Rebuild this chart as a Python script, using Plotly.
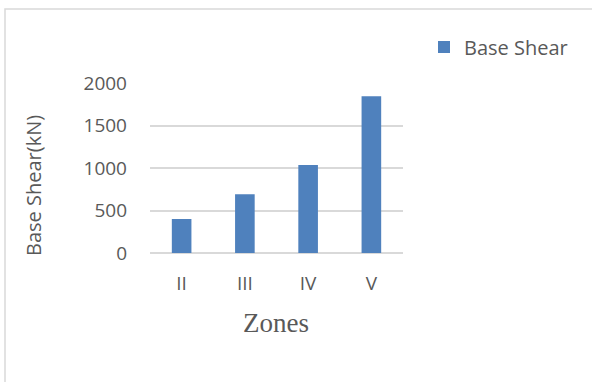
import plotly.graph_objects as go

zones = ["II", "III", "IV", "V"]
base_shear = [400, 690, 1035, 1845]
y_ticks = [0, 500, 1000, 1500, 2000]

W, H = 592, 382
L, R, T, B = 150, 189, 83, 129
pw, ph = W - L - R, H - T - B

def px(x):
    return (x - L) / pw

def py(y):
    return (H - B - y) / ph

BAR = "#4F81BD"
TXT = "#595959"
GRID = "#D9D9D9"

fig = go.Figure(
    go.Bar(x=zones, y=base_shear, name="Base Shear", marker=dict(color=BAR, line=dict(width=0)))
)

fig.update_layout(
    width=W, height=H,
    margin=dict(l=L, r=R, t=T, b=B, pad=0),
    paper_bgcolor="white", plot_bgcolor="white",
    bargap=0.69,
    font=dict(family="Open Sans", size=19, color=TXT),
    showlegend=True,
    legend=dict(x=px(424), y=py(47), xanchor="left", yanchor="middle",
                font=dict(family="Open Sans", size=20, color=TXT),
                bgcolor="rgba(0,0,0,0)"),
    xaxis=dict(showgrid=False, showline=False, ticks="", ticklabelstandoff=17,
               tickfont=dict(family="Open Sans", size=19, color=TXT)),
    yaxis=dict(range=[0, 2000], tickvals=y_ticks, showgrid=True, gridcolor=GRID, gridwidth=1.5,
               zeroline=True, zerolinecolor=GRID, zerolinewidth=1.5, showline=False, ticks="",
               ticklabelstandoff=22,
               tickfont=dict(family="Open Sans", size=19, color=TXT)),
    shapes=[dict(type="rect", xref="paper", yref="paper",
                 x0=px(5), x1=px(620), y0=py(9), y1=py(420),
                 line=dict(color=GRID, width=1.5), fillcolor="rgba(0,0,0,0)", layer="below")],
    annotations=[
        dict(text="Base Shear(kN)", xref="paper", yref="paper", x=px(33), y=py(186),
             textangle=-90, showarrow=False, xanchor="center", yanchor="middle",
             font=dict(family="Open Sans", size=20, color=TXT)),
        dict(text="Zones", xref="paper", yref="paper", x=px(276), y=py(323),
             showarrow=False, xanchor="center", yanchor="middle",
             font=dict(family="Liberation Serif", size=27, color=TXT)),
    ],
)

fig.write_html("out.html")
